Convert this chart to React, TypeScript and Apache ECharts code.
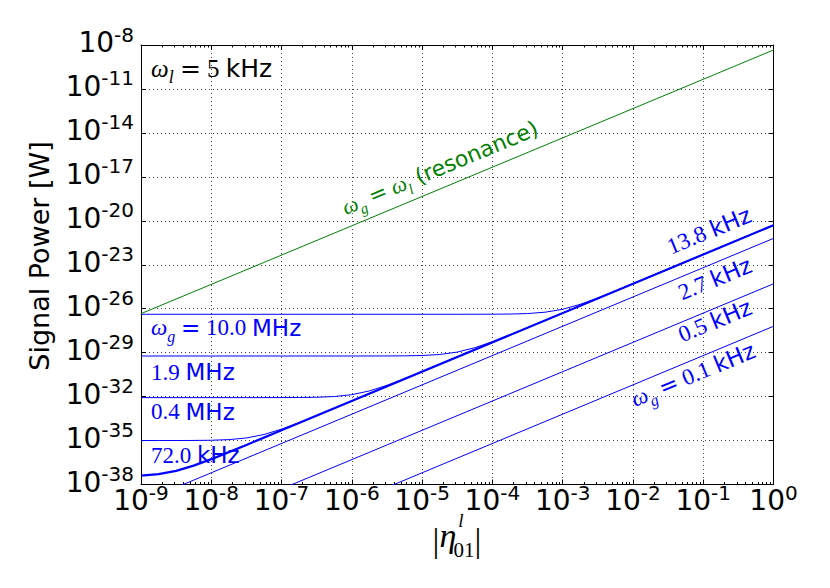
import React, { useEffect, useRef } from 'react';
import * as echarts from 'echarts';

// Axes are log10 scales: x = log10 |eta_01^l|, y = log10 (signal power in W)
const xTickExponents = [-9, -8, -7, -6, -5, -4, -3, -2, -1, 0];
const yTickExponents = [-38, -35, -32, -29, -26, -23, -20, -17, -14, -11, -8];
const minorMultipliers = [2, 3, 4, 5, 6, 7, 8, 9];

// resonance line (omega_g = omega_l)
const etaResonance = [-9, 0];
const powerResonance = [-26.34, -8.34];

// omega_g = 10.0 MHz
const eta10MHz = [-9, -5, -4.5, -4, -3.75, -3.5, -3.25, -3, -2.75, -2.5, -2.25, -2, -1.5, 0];
const power10MHz = [-26.38, -26.38, -26.38, -26.375, -26.364, -26.331, -26.24, -26.04, -25.7, -25.265, -24.79, -24.296, -23.3, -20.3];

// omega_g = 1.9 MHz
const eta1_9MHz = [-9, -6, -5.5, -5.25, -5, -4.75, -4.5, -4.25, -4, -3.75, -3.5, -3, 0];
const power1_9MHz = [-29.23, -29.23, -29.226, -29.219, -29.195, -29.127, -28.962, -28.663, -28.252, -27.784, -27.295, -26.3, -20.3];

// omega_g = 0.4 MHz
const eta0_4MHz = [-9, -7.5, -7, -6.75, -6.5, -6.25, -6, -5.75, -5.5, -5.25, -5, -4.5, 0];
const power0_4MHz = [-32.07, -32.07, -32.067, -32.062, -32.045, -31.996, -31.869, -31.613, -31.232, -30.777, -30.293, -29.299, -20.3];

// omega_g = 72.0 kHz
const eta72kHz = [-9, -8.75, -8.5, -8.25, -8, -7.75, -7.5, -7.25, -7, -6.75, -6.5, -6, 0];
const power72kHz = [-35.0, -34.999, -34.998, -34.993, -34.979, -34.936, -34.824, -34.588, -34.221, -33.773, -33.291, -32.299, -20.3];

// omega_g = 13.8 kHz
const eta13_8kHz = [-9, -8.75, -8.5, -8.25, -8, -7.75, -7.5, -7, 0];
const power13_8kHz = [-37.39, -37.29, -37.067, -36.712, -36.27, -35.79, -35.297, -34.3, -20.3];

// omega_g = 2.7 kHz, 0.5 kHz, 0.1 kHz
const eta2_7kHz = [-9, 0];
const power2_7kHz = [-39.2, -21.2];
const eta0_5kHz = [-9, 0];
const power0_5kHz = [-42.3, -24.3];
const eta0_1kHz = [-9, 0];
const power0_1kHz = [-45.2, -27.2];

const BLUE = '#0000ff';
const GREEN = '#008000';

const curves = [
  { name: '10.0 MHz', eta: eta10MHz, power: power10MHz, color: BLUE, width: 1 },
  { name: '1.9 MHz', eta: eta1_9MHz, power: power1_9MHz, color: BLUE, width: 1 },
  { name: '0.4 MHz', eta: eta0_4MHz, power: power0_4MHz, color: BLUE, width: 1 },
  { name: '72.0 kHz', eta: eta72kHz, power: power72kHz, color: BLUE, width: 1 },
  { name: '13.8 kHz', eta: eta13_8kHz, power: power13_8kHz, color: BLUE, width: 2.2 },
  { name: '2.7 kHz', eta: eta2_7kHz, power: power2_7kHz, color: BLUE, width: 1 },
  { name: '0.5 kHz', eta: eta0_5kHz, power: power0_5kHz, color: BLUE, width: 1 },
  { name: '0.1 kHz', eta: eta0_1kHz, power: power0_1kHz, color: BLUE, width: 1 },
  { name: 'resonance', eta: etaResonance, power: powerResonance, color: GREEN, width: 1 },
];

const mathRich = (size: number, color: string) => ({
  m: { fontFamily: 'Liberation Serif', fontStyle: 'italic', fontSize: size, lineHeight: size + 5, verticalAlign: 'top', fill: color },
  r: { fontFamily: 'Liberation Serif', fontSize: size, lineHeight: size + 5, verticalAlign: 'top', fill: color },
  e: { fontFamily: 'DejaVu Sans', fontSize: size, lineHeight: size + 5, verticalAlign: 'top', fill: color },
  g: { fontFamily: 'Liberation Serif', fontStyle: 'italic', fontSize: Math.round(size * 0.7), lineHeight: size + 5, verticalAlign: 'bottom', fill: color },
  s: { fontFamily: 'DejaVu Sans', fontSize: size, lineHeight: size + 5, verticalAlign: 'top', fill: color },
});

const SLOPE_ANGLE = (22.6 * Math.PI) / 180;

export default function App() {
  const ref = useRef<HTMLDivElement>(null);

  useEffect(() => {
    document.body.style.margin = '0';
    if (!ref.current) return;
    const chart = echarts.init(ref.current, undefined, { renderer: 'svg' });

    const minorTicks = xTickExponents.slice(0, -1).flatMap((n) => minorMultipliers.map((k) => n + Math.log10(k)));
    const tickFmt = (v: number) => '{b|10}{s|' + Math.round(v) + '}';
    const tickRich = {
      b: { fontFamily: 'DejaVu Sans', fontSize: 28, lineHeight: 32, verticalAlign: 'bottom', color: '#000' },
      s: { fontFamily: 'DejaVu Sans', fontSize: 20, lineHeight: 32, verticalAlign: 'top', color: '#000' },
    };
    const frame = { show: true, onZero: false, lineStyle: { color: '#000', width: 1 } };
    const tickLine = { color: '#000', width: 1 };
    const grid = { color: '#222', width: 1, type: [1, 3], opacity: 0.85 };

    const blueRich = mathRich(23, BLUE);

    const option: any = {
      animation: false,
      grid: { left: 141, top: 45, width: 632.5, height: 439.5, containLabel: false },
      xAxis: [
        {
          type: 'value', position: 'bottom', min: -9, max: 0,
          axisLine: frame,
          axisTick: { show: true, inside: true, length: 5, customValues: xTickExponents, lineStyle: tickLine },
          axisLabel: { show: true, customValues: xTickExponents, margin: -2, formatter: tickFmt, rich: tickRich },
          splitLine: { show: true, lineStyle: grid },
        },
        {
          type: 'value', position: 'bottom', min: -9, max: 0,
          axisLine: { show: false },
          axisTick: { show: true, inside: true, length: 2.5, customValues: minorTicks, lineStyle: tickLine },
          axisLabel: { show: false },
          splitLine: { show: false },
        },
        {
          type: 'value', position: 'top', min: -9, max: 0,
          axisLine: frame,
          axisTick: { show: true, inside: true, length: 5, customValues: xTickExponents, lineStyle: tickLine },
          axisLabel: { show: false },
          splitLine: { show: false },
        },
        {
          type: 'value', position: 'top', min: -9, max: 0,
          axisLine: { show: false },
          axisTick: { show: true, inside: true, length: 2.5, customValues: minorTicks, lineStyle: tickLine },
          axisLabel: { show: false },
          splitLine: { show: false },
        },
      ],
      yAxis: [
        {
          type: 'value', position: 'left', min: -38, max: -8,
          axisLine: frame,
          axisTick: { show: true, inside: true, length: 5, customValues: yTickExponents, lineStyle: tickLine },
          axisLabel: { show: true, customValues: yTickExponents, margin: 7, padding: [0, 0, 9, 0], formatter: tickFmt, rich: tickRich },
          splitLine: { show: true, lineStyle: grid },
        },
        {
          type: 'value', position: 'right', min: -38, max: -8,
          axisLine: frame,
          axisTick: { show: true, inside: true, length: 5, customValues: yTickExponents, lineStyle: tickLine },
          axisLabel: { show: false },
          splitLine: { show: false },
        },
      ],
      series: curves.map((c) => ({
        type: 'line',
        name: c.name,
        xAxisIndex: 0,
        yAxisIndex: 0,
        data: c.eta.map((e, i) => [e, c.power[i]]),
        symbol: 'none',
        showSymbol: false,
        smooth: false,
        clip: true,
        lineStyle: { color: c.color, width: c.width },
        emphasis: { disabled: true },
        z: 3,
      })),
      graphic: [
        { type: 'text', x: 151, y: 71, z: 10, style: { text: '{m|ω}{g|l}{r| }{e|=}{r| 5 }{s|kHz}', rich: mathRich(25, '#000'), fill: '#000', align: 'left', verticalAlign: 'middle' } },
        { type: 'text', x: 151, y: 330, z: 10, style: { text: '{m|ω}{g|g}{r| }{e|=}{r| 10.0 }{s|MHz}', rich: blueRich, fill: BLUE, align: 'left', verticalAlign: 'middle' } },
        { type: 'text', x: 151, y: 374.5, z: 10, style: { text: '{r|1.9 }{s|MHz}', rich: blueRich, fill: BLUE, align: 'left', verticalAlign: 'middle' } },
        { type: 'text', x: 151, y: 414, z: 10, style: { text: '{r|0.4 }{s|MHz}', rich: blueRich, fill: BLUE, align: 'left', verticalAlign: 'middle' } },
        { type: 'text', x: 151, y: 457.5, z: 10, style: { text: '{r|72.0 }{s|kHz}', rich: blueRich, fill: BLUE, align: 'left', verticalAlign: 'middle' } },
        { type: 'text', x: 710, y: 233, rotation: SLOPE_ANGLE, z: 10, style: { text: '{r|13.8 }{s|kHz}', rich: blueRich, fill: BLUE, align: 'center', verticalAlign: 'middle' } },
        { type: 'text', x: 716, y: 281, rotation: SLOPE_ANGLE, z: 10, style: { text: '{r|2.7 }{s|kHz}', rich: blueRich, fill: BLUE, align: 'center', verticalAlign: 'middle' } },
        { type: 'text', x: 716, y: 323, rotation: SLOPE_ANGLE, z: 10, style: { text: '{r|0.5 }{s|kHz}', rich: blueRich, fill: BLUE, align: 'center', verticalAlign: 'middle' } },
        { type: 'text', x: 694, y: 377, rotation: SLOPE_ANGLE, z: 10, style: { text: '{m|ω}{g|g}{r| }{e|=}{r| 0.1 }{s|kHz}', rich: blueRich, fill: BLUE, align: 'center', verticalAlign: 'middle' } },
        { type: 'text', x: 441, y: 170, rotation: SLOPE_ANGLE, z: 10, style: { text: '{m|ω}{g|g}{r| }{e|=}{r| }{m|ω}{g|l}{s| (resonance)}', rich: mathRich(22, GREEN), fill: GREEN, align: 'center', verticalAlign: 'middle' } },
        { type: 'text', x: 39, y: 256, rotation: Math.PI / 2, z: 10, style: { text: 'Signal Power [W]', fontFamily: 'DejaVu Sans', fontSize: 27, fill: '#000', align: 'center', verticalAlign: 'middle' } },
        { type: 'text', x: 436, y: 540, z: 10, style: { text: '|', fontFamily: 'Liberation Serif', fontSize: 34, fill: '#000', align: 'center', verticalAlign: 'middle' } },
        { type: 'text', x: 448, y: 535.5, z: 10, style: { text: 'η', fontFamily: 'Liberation Serif', fontStyle: 'italic', fontSize: 34, fill: '#000', align: 'center', verticalAlign: 'middle' } },
        { type: 'text', x: 461, y: 520, z: 10, style: { text: 'l', fontFamily: 'Liberation Serif', fontStyle: 'italic', fontSize: 19, fill: '#000', align: 'center', verticalAlign: 'middle' } },
        { type: 'text', x: 464, y: 550, z: 10, style: { text: '01', fontFamily: 'Liberation Serif', fontSize: 21, fill: '#000', align: 'center', verticalAlign: 'middle' } },
        { type: 'text', x: 478, y: 540, z: 10, style: { text: '|', fontFamily: 'Liberation Serif', fontSize: 34, fill: '#000', align: 'center', verticalAlign: 'middle' } },
      ],
    };

    chart.setOption(option);
    return () => chart.dispose();
  }, []);

  return <div ref={ref} style={{ width: 830, height: 588 }} />;
}
